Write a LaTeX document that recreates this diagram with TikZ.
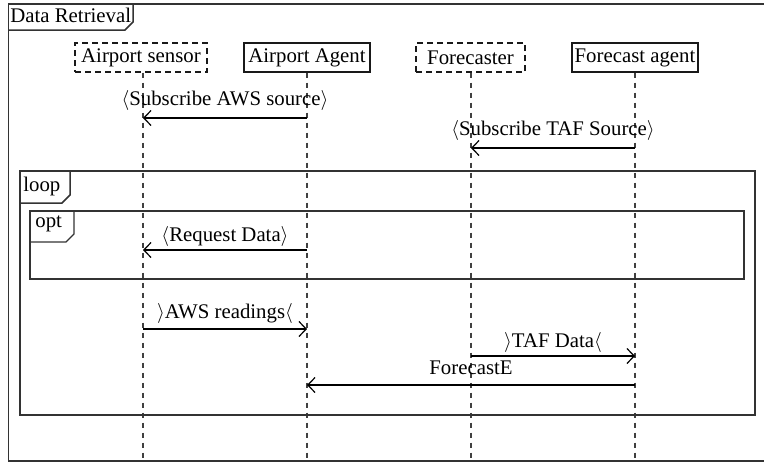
\documentclass[tikz,border=0pt]{standalone}
\usepackage{fontspec}
\setmainfont{Liberation Serif}
\usetikzlibrary{arrows.meta}
\begin{document}
\begin{tikzpicture}[x=0.5pt,y=-0.5pt,
  txt/.style={font=\fontsize{10.4}{12}\selectfont},
  frameline/.style={draw=black!80,line width=0.75pt},
  actor/.style={txt,draw=black!90,line width=0.6pt,minimum height=14.5pt,inner sep=0pt},
  ghost/.style={actor,dash pattern=on 3pt off 2pt},
  lifeline/.style={draw=black!75,line width=0.6pt,dash pattern=on 2.8pt off 2.2pt},
  msg/.style={draw=black,line width=0.6pt,-{Straight Barb[length=3.6pt,width=7.5pt,line width=0.6pt]}},
  lbl/.style={txt,inner sep=0pt,anchor=base},
  tab/.style={txt,anchor=north west,inner sep=0pt}
]
\useasboundingbox (0,0) rectangle (764,462);

% outer sequence frame and its title tab
\draw[frameline] (764,4) -- (8.5,4) -- (8.5,461) -- (764,461);
\node[tab] (title) at (10,8) {Data Retrieval};
\draw[frameline] (133,4) -- (133,22) -- (125,30) -- (8.5,30);

% participants
\node[ghost, minimum width=66pt] (sensor) at (141,57.5) {Airport sensor};
\node[actor, minimum width=63pt] (agent)  at (307,57.5) {Airport Agent};
\node[ghost, minimum width=54.5pt] (fcst) at (470.5,57.5) {Forecaster};
\node[actor, minimum width=63pt] (fagent) at (635,57.5) {Forecast agent};

% lifelines
\coordinate (sensorEnd) at (143,461);
\coordinate (agentEnd)  at (307,461);
\coordinate (fcstEnd)   at (471,461);
\coordinate (fagentEnd) at (635,461);
\draw[lifeline] (sensor.south -| sensorEnd) -- (sensorEnd);
\draw[lifeline] (agent.south) -- (agentEnd);
\draw[lifeline] (fcst.south -| fcstEnd) -- (fcstEnd);
\draw[lifeline] (fagent.south) -- (fagentEnd);

% loop and opt fragments
\draw[frameline] (20,171) rectangle (755,415);
\node[tab] (loopTab) at (23,177) {loop};
\draw[frameline] (70,171) -- (70,195) -- (62,203) -- (20,203);
\draw[frameline,line width=0.65pt] (30,211) rectangle (744,279);
\node[tab] (optTab) at (35,215) {opt};
\draw[frameline,line width=0.65pt] (74,211) -- (74,234) -- (66,242) -- (30,242);

% messages
\coordinate (m1a) at (307,118); \coordinate (m1b) at (143,118);
\draw[msg] (m1a) -- (m1b);
\node[lbl] (l1) at (225,105) {$\langle$Subscribe AWS source$\rangle$};

\coordinate (m2a) at (635,148); \coordinate (m2b) at (471,148);
\draw[msg] (m2a) -- (m2b);
\node[lbl] (l2) at (553,135) {$\langle$Subscribe TAF Source$\rangle$};

\coordinate (m3a) at (307,250); \coordinate (m3b) at (143,250);
\draw[msg] (m3a) -- (m3b);
\node[lbl] (l3) at (225,241) {$\langle$Request Data$\rangle$};

\coordinate (m4a) at (143,329); \coordinate (m4b) at (307,329);
\draw[msg] (m4a) -- (m4b);
\node[lbl] (l4) at (225,318) {$\rangle$AWS readings$\langle$};

\coordinate (m5a) at (471,356); \coordinate (m5b) at (635,356);
\draw[msg] (m5a) -- (m5b);
\node[lbl] (l5) at (553,347) {$\rangle$TAF Data$\langle$};

\coordinate (m6a) at (635,385); \coordinate (m6b) at (307,385);
\draw[msg] (m6a) -- (m6b);
\node[lbl] (l6) at (471,374) {ForecastE};
\end{tikzpicture}
\end{document}
